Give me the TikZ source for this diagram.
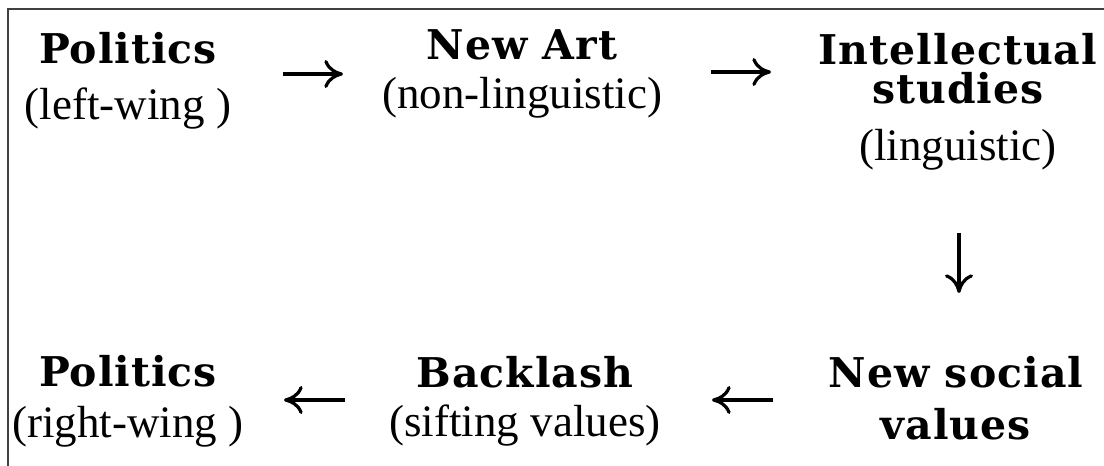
\documentclass[tikz,border=0pt]{standalone}
\usepackage{fontspec}
\setmainfont{Liberation Serif}
\newfontfamily\slabfont{DejaVu Serif}[LetterSpace=2.5]
\usetikzlibrary{arrows.meta,calc}
\newcommand\ttl[1]{{\slabfont\bfseries\fontsize{30.75}{36}\selectfont #1}}
\newcommand\twol[3]{\vtop{\baselineskip=0pt\lineskiplimit=-1000pt\lineskip=0pt\halign{\hfil##\hfil\cr#1\cr\noalign{\vskip#2}#3\cr}}}
\newcommand\threel[5]{\vtop{\baselineskip=0pt\lineskiplimit=-1000pt\lineskip=0pt\halign{\hfil##\hfil\cr#1\cr\noalign{\vskip#2}#3\cr\noalign{\vskip#4}#5\cr}}}
\tikzset{
 blk/.style={anchor=base, inner sep=0pt, font=\fontsize{33.75}{40}\selectfont},
 arr/.style={line width=2.4pt, -{Computer Modern Rightarrow[length=14pt,width=21pt]}},
 frame/.style={line width=1.6pt, draw=black!75}
}
\begin{document}
\begin{tikzpicture}[x=0.75pt,y=-0.75pt]
\useasboundingbox (0,0) rectangle (1104,466);
\draw[frame] (8,466) -- (8,9) -- (1104,9);
\node[blk] (pl) at (128,64) {\twol{\ttl{Politics}}{42pt}{(left-wing )}};
\node[blk] (na) at (522,60) {\twol{\ttl{New Art}}{36.75pt}{(non-linguistic)}};
\node[blk] (is) at (958,65) {\threel{\ttl{Intellectual}}{29pt}{\ttl{studies}}{42.75pt}{(linguistic)}};
\node[blk] (nsv) at (956,388) {\twol{\ttl{New social}}{39pt}{\ttl{values}}};
\node[blk] (bl) at (525,388) {\twol{\ttl{Backlash}}{36.75pt}{(sifting values)}};
\node[blk] (pr) at (128,387) {\twol{\ttl{Politics}}{38.25pt}{(right-wing )}};
\draw[arr] ($(pl.base)+(155,10)$) -- ($(na.base)+(-179,14)$);
\draw[arr] ($(na.base)+(189,12)$) -- ($(is.base)+(-187,7)$);
\draw[arr] ($(is.base)+(1,168)$) -- ($(nsv.base)+(3,-95)$);
\draw[arr] ($(nsv.base)+(-183,12)$) -- ($(bl.base)+(187,12)$);
\draw[arr] ($(bl.base)+(-180,12)$) -- ($(pr.base)+(156,13)$);
\end{tikzpicture}
\end{document}
